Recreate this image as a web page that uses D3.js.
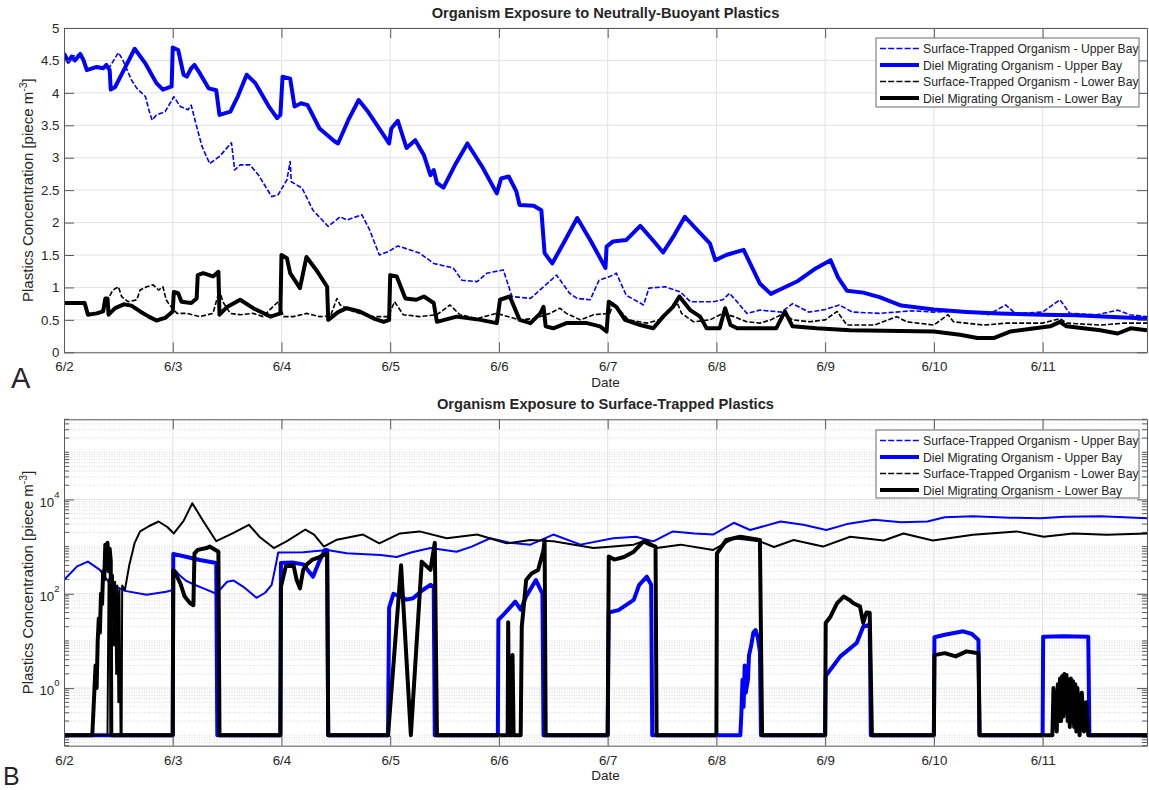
<!DOCTYPE html>
<html>
<head>
<meta charset="utf-8">
<script src="https://cdn.jsdelivr.net/npm/d3@7"></script>
<style>
  body { margin: 0; background: #fff; }
  text { font-family: "Liberation Sans", Arial, Helvetica, sans-serif; fill: #262626; }
</style>
</head>
<body>
<svg id="chart" width="1149" height="790"></svg>
<script>
// ---- data ----
// x values are days since 6/2 00:00
const dayTicks = [0, 1, 2, 3, 4, 5, 6, 7, 8, 9];
const dayLabels = ['6/2', '6/3', '6/4', '6/5', '6/6', '6/7', '6/8', '6/9', '6/10', '6/11'];
const seriesNames = [
  'Surface-Trapped Organism - Upper Bay',
  'Diel Migrating Organism - Upper Bay',
  'Surface-Trapped Organism - Lower Bay',
  'Diel Migrating Organism - Lower Bay'
];
const yTicksA = [0, 0.5, 1, 1.5, 2, 2.5, 3, 3.5, 4, 4.5, 5];
const yTicksB = [1, 100, 10000];

// Panel A: neutrally-buoyant plastics [day, piece m-3]
const aSurfaceUpper = [[0,4.61],[0.04,4.48],[0.07,4.56],[0.15,4.60],[0.21,4.35],[0.30,4.40],[0.36,4.38],[0.42,4.40],[0.50,4.62],[0.54,4.51],[0.62,4.20],[0.67,4.07],[0.75,3.94],[0.78,3.74],[0.81,3.58],[0.85,3.66],[0.93,3.71],[1.01,3.94],[1.07,3.79],[1.14,3.74],[1.17,3.81],[1.22,3.48],[1.27,3.17],[1.34,2.91],[1.43,3.02],[1.54,3.23],[1.57,2.81],[1.62,2.89],[1.71,2.89],[1.79,2.73],[1.91,2.40],[1.97,2.43],[2.05,2.66],[2.08,2.94],[2.09,2.63],[2.19,2.53],[2.29,2.19],[2.43,1.94],[2.54,2.09],[2.60,2.04],[2.74,2.12],[2.81,1.89],[2.90,1.50],[2.98,1.55],[3.07,1.64],[3.27,1.53],[3.40,1.37],[3.58,1.30],[3.66,1.11],[3.80,1.09],[3.89,1.22],[4.04,1.27],[4.12,0.86],[4.29,0.83],[4.41,1.01],[4.53,1.19],[4.65,0.91],[4.72,0.83],[4.84,0.81],[4.92,1.11],[5.02,1.17],[5.08,1.22],[5.17,0.88],[5.33,0.73],[5.38,0.99],[5.53,1.01],[5.67,0.93],[5.76,0.78],[5.97,0.78],[6.06,0.81],[6.12,0.91],[6.19,0.78],[6.28,0.60],[6.40,0.65],[6.60,0.62],[6.70,0.75],[6.85,0.62],[7.0,0.66],[7.13,0.73],[7.25,0.62],[7.5,0.60],[7.8,0.64],[8.0,0.62],[8.3,0.64],[8.5,0.58],[8.66,0.73],[8.75,0.60],[9.0,0.62],[9.16,0.81],[9.25,0.60],[9.5,0.58],[9.69,0.65],[9.8,0.58],[9.96,0.55]];
const aDielUpper = [[0,4.61],[0.04,4.48],[0.07,4.56],[0.10,4.50],[0.15,4.60],[0.18,4.50],[0.21,4.35],[0.30,4.40],[0.36,4.38],[0.39,4.43],[0.42,4.35],[0.43,4.05],[0.47,4.09],[0.55,4.35],[0.65,4.68],[0.75,4.45],[0.85,4.15],[0.91,4.05],[0.99,4.10],[1.0,4.70],[1.05,4.66],[1.10,4.28],[1.13,4.25],[1.17,4.38],[1.20,4.43],[1.25,4.30],[1.33,4.07],[1.40,4.04],[1.43,3.66],[1.53,3.71],[1.60,3.95],[1.68,4.28],[1.76,4.15],[1.88,3.80],[1.96,3.61],[1.99,3.66],[2.01,4.25],[2.08,4.22],[2.12,3.79],[2.18,3.84],[2.24,3.81],[2.35,3.45],[2.49,3.25],[2.52,3.22],[2.62,3.60],[2.71,3.89],[2.80,3.70],[2.92,3.40],[2.99,3.22],[3.01,3.45],[3.07,3.57],[3.15,3.15],[3.23,3.27],[3.31,3.04],[3.37,2.73],[3.40,2.81],[3.43,2.61],[3.49,2.54],[3.60,2.90],[3.71,3.22],[3.85,2.85],[3.98,2.45],[4.02,2.68],[4.09,2.71],[4.16,2.48],[4.19,2.27],[4.32,2.26],[4.39,2.19],[4.42,1.53],[4.49,1.37],[4.60,1.70],[4.72,2.07],[4.85,1.70],[4.98,1.30],[4.99,1.63],[5.05,1.71],[5.17,1.73],[5.30,1.95],[5.42,1.72],[5.51,1.54],[5.61,1.80],[5.71,2.09],[5.82,1.89],[5.94,1.68],[5.99,1.42],[6.09,1.50],[6.25,1.58],[6.31,1.37],[6.40,1.06],[6.50,0.90],[6.60,0.98],[6.75,1.10],[6.90,1.28],[7.05,1.42],[7.12,1.15],[7.20,0.95],[7.35,0.92],[7.50,0.85],[7.70,0.72],[8.0,0.66],[8.3,0.62],[8.6,0.60],[9.0,0.58],[9.3,0.57],[9.6,0.55],[9.96,0.52]];
const aSurfaceLower = [[0,0.78],[0.18,0.76],[0.22,0.60],[0.33,0.60],[0.39,0.78],[0.45,0.96],[0.50,1.01],[0.53,0.86],[0.59,0.78],[0.67,0.81],[0.70,0.96],[0.76,1.01],[0.82,1.04],[0.87,0.96],[0.91,1.01],[0.94,0.81],[0.97,0.73],[1.04,0.60],[1.13,0.60],[1.25,0.55],[1.37,0.60],[1.43,0.96],[1.46,0.78],[1.53,0.60],[1.62,0.58],[1.74,0.60],[1.83,0.55],[1.92,0.70],[1.97,0.78],[2.02,0.55],[2.11,0.55],[2.23,0.60],[2.35,0.55],[2.45,0.56],[2.51,0.83],[2.54,0.73],[2.66,0.63],[2.82,0.55],[2.98,0.55],[3.04,0.78],[3.12,0.58],[3.27,0.55],[3.43,0.58],[3.55,0.73],[3.64,0.58],[3.80,0.52],[3.98,0.60],[4.19,0.50],[4.32,0.52],[4.47,0.60],[4.56,0.68],[4.62,0.60],[4.75,0.50],[4.87,0.58],[5.02,0.60],[5.05,0.76],[5.11,0.65],[5.19,0.50],[5.36,0.45],[5.48,0.50],[5.58,0.65],[5.64,0.76],[5.68,0.60],[5.79,0.47],[5.94,0.50],[6.06,0.60],[6.16,0.55],[6.28,0.47],[6.40,0.45],[6.50,0.50],[6.62,0.60],[6.70,0.50],[6.86,0.47],[7.0,0.50],[7.11,0.63],[7.2,0.42],[7.45,0.42],[7.66,0.55],[7.75,0.47],[8.0,0.42],[8.13,0.58],[8.18,0.47],[8.46,0.42],[8.67,0.45],[9.0,0.45],[9.16,0.52],[9.22,0.45],[9.53,0.42],[9.75,0.45],[9.96,0.45]];
const aDielLower = [[0,0.76],[0.19,0.76],[0.22,0.58],[0.30,0.60],[0.36,0.63],[0.38,0.83],[0.40,0.83],[0.41,0.58],[0.47,0.68],[0.55,0.74],[0.62,0.72],[0.70,0.63],[0.78,0.55],[0.85,0.49],[0.93,0.53],[1.0,0.63],[1.01,0.93],[1.05,0.91],[1.08,0.78],[1.17,0.76],[1.22,0.83],[1.23,1.19],[1.28,1.22],[1.37,1.17],[1.42,1.24],[1.43,0.58],[1.50,0.70],[1.62,0.81],[1.74,0.68],[1.90,0.55],[1.99,0.60],[2.0,1.50],[2.05,1.45],[2.08,1.22],[2.17,0.99],[2.23,1.47],[2.32,1.27],[2.42,1.01],[2.43,0.50],[2.52,0.62],[2.60,0.68],[2.72,0.63],[2.85,0.52],[2.94,0.47],[2.99,0.50],[3.0,1.19],[3.06,1.17],[3.14,0.83],[3.24,0.81],[3.31,0.86],[3.40,0.76],[3.43,0.47],[3.61,0.55],[3.83,0.50],[3.98,0.45],[4.01,0.81],[4.10,0.86],[4.14,0.70],[4.19,0.50],[4.29,0.45],[4.38,0.60],[4.41,0.70],[4.43,0.40],[4.50,0.37],[4.62,0.45],[4.81,0.45],[4.93,0.40],[4.99,0.32],[5.01,0.78],[5.08,0.70],[5.16,0.50],[5.30,0.42],[5.42,0.37],[5.51,0.55],[5.60,0.70],[5.66,0.86],[5.76,0.65],[5.85,0.55],[5.91,0.37],[6.03,0.37],[6.08,0.68],[6.13,0.42],[6.19,0.37],[6.40,0.37],[6.55,0.37],[6.63,0.63],[6.70,0.40],[6.92,0.37],[7.23,0.34],[8.0,0.32],[8.24,0.27],[8.40,0.22],[8.55,0.22],[8.70,0.32],[9.07,0.40],[9.16,0.47],[9.22,0.40],[9.53,0.34],[9.69,0.29],[9.81,0.37],[9.96,0.34]];

// Panel B: surface-trapped plastics [day, piece m-3], 0.1 is the floor value
const bSurfaceUpper = [[0,195],[0.12,380],[0.22,480],[0.33,320],[0.42,166],[0.56,115],[0.76,95],[0.94,110],[1.0,120],[1.02,320],[1.06,250],[1.12,190],[1.2,155],[1.3,125],[1.40,100],[1.50,180],[1.56,190],[1.65,140],[1.77,82],[1.85,105],[1.91,155],[1.94,330],[1.97,750],[2.2,760],[2.42,850],[2.6,720],[2.91,660],[3.06,600],[3.2,760],[3.37,930],[3.61,780],[3.75,1000],[3.92,1500],[4.1,1200],[4.29,1100],[4.50,1800],[4.75,1100],[5.05,1500],[5.26,1620],[5.42,1290],[5.60,2100],[5.8,1900],[5.97,1800],[6.16,3200],[6.31,2250],[6.59,3400],[6.8,2900],[7.01,2250],[7.2,3000],[7.45,3700],[7.7,3300],[7.94,3400],[8.1,4200],[8.36,4400],[8.7,4100],[8.98,4000],[9.2,4300],[9.53,4400],[9.75,4200],[9.96,4000]];
const bDielUpper = [[0,0.1],[1.0,0.1],[1.005,700],[1.13,600],[1.25,520],[1.40,450],[1.41,0.1],[1.99,0.1],[1.995,450],[2.1,460],[2.2,420],[2.29,230],[2.35,500],[2.40,850],[2.42,850],[2.43,0.1],[2.98,0.1],[2.99,50],[3.03,100],[3.08,90],[3.15,75],[3.21,80],[3.3,120],[3.37,155],[3.40,140],[3.41,0.1],[3.99,0.1],[3.995,28],[4.06,40],[4.15,68],[4.20,46],[4.25,87],[4.34,195],[4.40,100],[4.41,0.1],[5.0,0.1],[5.01,40],[5.1,45],[5.24,74],[5.29,155],[5.36,230],[5.40,155],[5.41,0.1],[6.22,0.1],[6.23,0.3],[6.24,1.5],[6.25,0.4],[6.26,3],[6.27,0.8],[6.29,1.5],[6.30,5],[6.32,8],[6.34,15],[6.36,17],[6.38,12],[6.40,6],[6.41,0.1],[7.0,0.1],[7.005,1.8],[7.14,4.7],[7.29,9],[7.35,20],[7.41,22],[7.42,0.1],[8.0,0.1],[8.005,12],[8.1,13.5],[8.27,16],[8.35,14],[8.41,10.5],[8.42,0.1],[9.0,0.1],[9.005,12.3],[9.2,12.5],[9.42,12.3],[9.43,0.1],[9.96,0.1]];
const bSurfaceLower = [[0,0.1],[0.40,0.1],[0.41,200],[0.42,60],[0.43,300],[0.44,30],[0.45,250],[0.46,8],[0.47,180],[0.48,2],[0.49,150],[0.50,0.5],[0.51,120],[0.52,0.1],[0.53,0.1],[0.535,150],[0.56,120],[0.60,400],[0.65,1200],[0.70,2100],[0.78,2700],[0.87,3400],[0.95,2600],[1.01,1900],[1.1,3500],[1.18,8300],[1.28,3500],[1.40,1300],[1.55,1900],[1.70,2900],[1.80,1600],[1.93,930],[2.05,1300],[2.22,2300],[2.30,1800],[2.39,1000],[2.51,1400],[2.75,1800],[2.90,1170],[3.09,1900],[3.27,2100],[3.52,1500],[3.80,1800],[4.07,1170],[4.29,1380],[4.5,1300],[4.87,930],[5.05,1000],[5.24,1100],[5.36,1380],[5.45,930],[5.67,1100],[5.97,850],[6.16,1500],[6.40,1290],[6.53,980],[6.71,1380],[6.98,1000],[7.23,1620],[7.54,1350],[7.72,1900],[7.99,1350],[8.36,1780],[8.76,2100],[9.01,1620],[9.28,1900],[9.59,1780],[9.96,1900]];
const bDielLower = [[0,0.1],[0.26,0.1],[0.27,0.3],[0.29,3],[0.30,1],[0.31,10],[0.32,30],[0.33,15],[0.34,100],[0.35,60],[0.36,300],[0.37,200],[0.38,1100],[0.39,400],[0.40,1200],[0.41,300],[0.42,900],[0.43,500],[0.435,0.1],[1.0,0.1],[1.005,320],[1.04,230],[1.07,165],[1.11,87],[1.16,63],[1.19,57],[1.20,720],[1.23,850],[1.31,930],[1.34,1000],[1.42,780],[1.43,0.1],[1.99,0.1],[1.995,140],[2.04,380],[2.11,410],[2.14,195],[2.17,130],[2.20,320],[2.23,410],[2.28,520],[2.35,600],[2.42,720],[2.43,0.1],[2.98,0.1],[3.10,400],[3.19,0.1],[3.29,480],[3.37,320],[3.41,1200],[3.43,0.1],[4.08,0.1],[4.085,25],[4.095,0.1],[4.12,0.1],[4.125,5],[4.135,0.1],[4.20,0.1],[4.21,20],[4.23,60],[4.25,195],[4.30,270],[4.36,320],[4.41,850],[4.42,1380],[4.43,0.1],[5.0,0.1],[5.01,620],[5.06,530],[5.15,600],[5.24,780],[5.33,1290],[5.39,1100],[5.44,1000],[5.45,0.1],[6.0,0.1],[6.005,720],[6.09,1380],[6.22,1620],[6.40,1380],[6.42,0.1],[7.0,0.1],[7.005,24],[7.05,33],[7.11,63],[7.17,87],[7.22,75],[7.26,63],[7.32,54],[7.35,24],[7.38,40],[7.41,39],[7.43,0.1],[8.0,0.1],[8.005,5],[8.1,5.5],[8.2,4.7],[8.3,6],[8.41,5.5],[8.42,0.1],[9.09,0.1],[9.10,1.0],[9.11,0.15],[9.12,0.8],[9.13,0.12],[9.14,1.2],[9.15,0.2],[9.16,1.6],[9.17,0.2],[9.18,1.8],[9.19,0.25],[9.20,2.0],[9.21,0.3],[9.22,1.9],[9.23,0.2],[9.24,1.5],[9.25,0.15],[9.26,1.6],[9.27,0.2],[9.28,1.4],[9.29,0.15],[9.30,1.2],[9.31,0.12],[9.32,1.0],[9.34,0.1],[9.36,0.8],[9.38,0.12],[9.40,0.5],[9.42,0.1],[9.96,0.1]];

// ---- layout ----
const svg = d3.select('#chart');
const left = 64, right = 1147;
const axisColor = '#5a5a5a';
const gridColor = '#e2e2e2';
const font = '"Liberation Sans", Arial, sans-serif';

const x = d3.scaleLinear().domain([0, 9.96]).range([left, right]);

const panels = [
  {
    id: 'A', top: 28, bottom: 352.3,
    title: 'Organism Exposure to Neutrally-Buoyant Plastics',
    y: d3.scaleLinear().domain([0, 5]),
    series: [aSurfaceUpper, aDielUpper, aSurfaceLower, aDielLower],
    thinWidth: 1.6, thinDash: '5,2',
    legend: { x: 876, y: 38, w: 263, h: 69 }
  },
  {
    id: 'B', top: 419.3, bottom: 745.7,
    title: 'Organism Exposure to Surface-Trapped Plastics',
    y: d3.scaleLog().domain([0.06, 5e5]),
    series: [bSurfaceUpper, bDielUpper, bSurfaceLower, bDielLower],
    thinWidth: 2, thinDash: null,
    legend: { x: 876, y: 430, w: 263, h: 68 }
  }
];

const styles = [
  { color: '#0000ff', thick: false },
  { color: '#0000ff', thick: true },
  { color: '#000000', thick: false },
  { color: '#000000', thick: true }
];

panels.forEach((p, pi) => {
  const y = p.y.range([p.bottom, p.top]);
  const g = svg.append('g').attr('class', 'panel-' + p.id);
  const isLog = p.id === 'B';

  // minor grid (log panel only)
  if (isLog) {
    const minor = [];
    for (let e = -2; e <= 5; e++) {
      for (let m = 1; m <= 9; m++) {
        const v = m * Math.pow(10, e);
        if (v >= 0.06 && v <= 5e5 && !yTicksB.includes(v)) minor.push(v);
      }
    }
    g.append('g').selectAll('line').data(minor).join('line')
      .attr('x1', left).attr('x2', right)
      .attr('y1', d => y(d)).attr('y2', d => y(d))
      .attr('stroke', '#d8d8d8').attr('stroke-width', 1)
      .attr('stroke-dasharray', '1,1.5');

    // minor ticks on left/right
    g.append('g').selectAll('line').data(minor).join('line')
      .attr('x1', left).attr('x2', left + 5)
      .attr('y1', d => y(d)).attr('y2', d => y(d))
      .attr('stroke', axisColor);
    g.append('g').selectAll('line').data(minor).join('line')
      .attr('x1', right - 5).attr('x2', right)
      .attr('y1', d => y(d)).attr('y2', d => y(d))
      .attr('stroke', axisColor);
  }

  const yTicks = isLog ? yTicksB : yTicksA;

  // major grid
  g.append('g').selectAll('line').data(dayTicks.slice(1)).join('line')
    .attr('x1', d => x(d)).attr('x2', d => x(d))
    .attr('y1', p.top).attr('y2', p.bottom)
    .attr('stroke', gridColor);
  g.append('g').selectAll('line').data(yTicks).join('line')
    .attr('x1', left).attr('x2', right)
    .attr('y1', d => y(d)).attr('y2', d => y(d))
    .attr('stroke', gridColor);

  // data lines
  const clipId = 'clip-' + p.id;
  svg.append('clipPath').attr('id', clipId).append('rect')
    .attr('x', left).attr('y', p.top).attr('width', right - left).attr('height', p.bottom - p.top);
  const line = d3.line().x(d => x(d[0])).y(d => y(d[1]));
  const lg = g.append('g').attr('clip-path', `url(#${clipId})`);
  p.series.forEach((s, i) => {
    const st = styles[i];
    lg.append('path').datum(s)
      .attr('d', line)
      .attr('fill', 'none')
      .attr('stroke', st.color)
      .attr('stroke-width', st.thick ? 4 : p.thinWidth)
      .attr('stroke-dasharray', st.thick ? null : p.thinDash)
      .attr('stroke-linejoin', 'round');
  });

  // axes (box with inward ticks)
  const xb = d3.axisBottom(x).tickValues(dayTicks).tickFormat(d => dayLabels[d])
    .tickSizeInner(-10).tickSizeOuter(0).tickPadding(9.5);
  const xt = d3.axisTop(x).tickValues(dayTicks).tickFormat('')
    .tickSizeInner(-10).tickSizeOuter(0);
  const yl = d3.axisLeft(y).tickValues(yTicks)
    .tickFormat(isLog ? '' : d => d3.format('~g')(d))
    .tickSizeInner(-10).tickSizeOuter(0).tickPadding(4.5);
  const yr = d3.axisRight(y).tickValues(yTicks).tickFormat('')
    .tickSizeInner(-10).tickSizeOuter(0);

  const axes = [
    g.append('g').attr('transform', `translate(0,${p.bottom})`).call(xb),
    g.append('g').attr('transform', `translate(0,${p.top})`).call(xt),
    g.append('g').attr('transform', `translate(${left},0)`).call(yl),
    g.append('g').attr('transform', `translate(${right},0)`).call(yr)
  ];
  axes.forEach(a => {
    a.select('.domain').attr('stroke', axisColor);
    a.selectAll('.tick line').attr('stroke', axisColor);
    a.selectAll('.tick text')
      .attr('font-size', 13.3)
      .attr('font-family', font)
      .attr('fill', '#262626');
  });

  // log tick labels with superscripts
  if (isLog) {
    const lab = g.append('g').selectAll('text').data(yTicks).join('text')
      .attr('x', 59.5).attr('y', d => y(d) + 7.4)
      .attr('text-anchor', 'end').attr('font-size', 13.3);
    lab.append('tspan').text('10');
    lab.append('tspan').attr('dy', -9).attr('font-size', 9.5)
      .text(d => String(Math.round(Math.log10(d))));
  }

  // titles and labels
  svg.append('text')
    .attr('x', (left + right) / 2).attr('y', p.top - 10)
    .attr('text-anchor', 'middle').attr('font-size', 14.7).attr('font-weight', 'bold')
    .text(p.title);
  svg.append('text')
    .attr('x', (left + right) / 2).attr('y', p.bottom + 34.5)
    .attr('text-anchor', 'middle').attr('font-size', 13.5)
    .text('Date');
  const yl2 = svg.append('text')
    .attr('transform', `translate(33,${(p.top + p.bottom) / 2}) rotate(-90)`)
    .attr('text-anchor', 'middle').attr('font-size', 15);
  yl2.append('tspan').text('Plastics Concentration [piece m');
  yl2.append('tspan').attr('dy', -6).attr('font-size', 10.5).text('-3');
  yl2.append('tspan').attr('dy', 6).text(']');
  svg.append('text')
    .attr('x', pi === 0 ? 11 : 3).attr('y', p.bottom + (pi === 0 ? 36 : 39))
    .attr('font-size', pi === 0 ? 29 : 25)
    .text(p.id);

  // legend
  const L = p.legend;
  const leg = svg.append('g');
  leg.append('rect').attr('x', L.x).attr('y', L.y).attr('width', L.w).attr('height', L.h)
    .attr('fill', '#fff').attr('stroke', '#6b6b6b').attr('stroke-width', 1);
  const rowH = 16.5;
  const rows = leg.selectAll('g').data(seriesNames).join('g')
    .attr('transform', (d, i) => `translate(${L.x},${L.y + 10.5 + i * rowH})`);
  rows.append('line')
    .attr('x1', 4).attr('x2', 43).attr('y1', 0).attr('y2', 0)
    .attr('stroke', (d, i) => styles[i].color)
    .attr('stroke-width', (d, i) => styles[i].thick ? 4 : 1.5)
    .attr('stroke-dasharray', (d, i) => styles[i].thick ? null : '6,2.2');
  rows.append('text')
    .attr('x', 47).attr('y', 4.5).attr('font-size', 12.2)
    .text(d => d);
});
</script>
</body>
</html>
